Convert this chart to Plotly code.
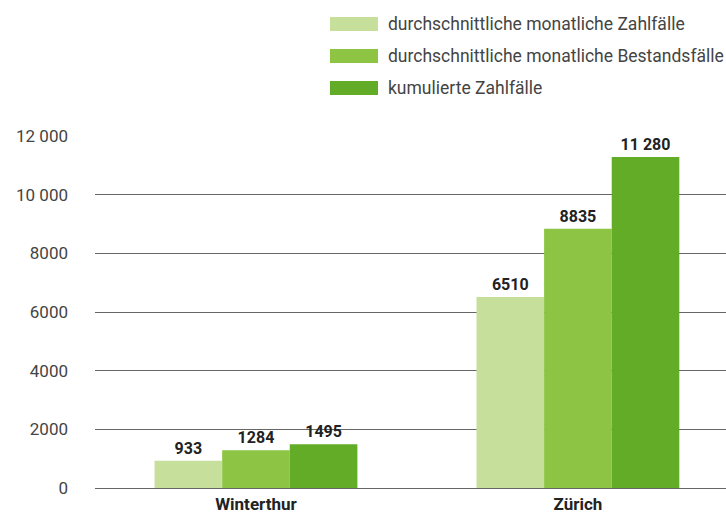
import plotly.graph_objects as go

categories = ["Winterthur", "Zürich"]
series_names = [
    "durchschnittliche monatliche Zahlfälle",
    "durchschnittliche monatliche Bestandsfälle",
    "kumulierte Zahlfälle",
]
zahlfaelle = [933, 6510]
bestandsfaelle = [1284, 8835]
kumuliert = [1495, 11280]
value_labels = [["933", "6510"], ["1284", "8835"], ["1495", "11 280"]]
tick_vals = [0, 2000, 4000, 6000, 8000, 10000, 12000]
tick_text = ["0", "2000", "4000", "6000", "8000", "10 000", "12 000"]

colors = ["#c6e09c", "#8dc443", "#62ac27"]
series = [zahlfaelle, bestandsfaelle, kumuliert]

L, T, B = 95, 136, 25
W, H = 726, 513
plot_w = W - L
plot_h = H - T - B

fig = go.Figure()
for name, vals, col, labels in zip(series_names, series, colors, value_labels):
    fig.add_trace(go.Bar(
        x=categories, y=vals, name=name, marker=dict(color=col, line=dict(width=0)),
        text=labels, textposition="outside", cliponaxis=False,
        textfont=dict(family="Roboto", size=16, color="#222222", weight="bold"),
        showlegend=False,
    ))

# custom legend (swatches + texts), positions given in window pixels
legend_y = [24, 56, 88]
for name, col, yy in zip(series_names, colors, legend_y):
    fig.add_shape(type="rect", xref="paper", yref="paper",
                  x0=(330 - L) / plot_w, x1=(378 - L) / plot_w,
                  y0=(488 - yy + 7) / plot_h, y1=(488 - yy - 7) / plot_h,
                  fillcolor=col, line=dict(width=0))
    fig.add_annotation(xref="paper", yref="paper", x=(386 - L) / plot_w, y=(488 - yy) / plot_h,
                       text=name, showarrow=False, xanchor="left", yanchor="middle",
                       font=dict(family="Roboto", size=17.5, color="#444444"))

fig.update_layout(
    width=W, height=H,
    margin=dict(l=L, r=0, t=T, b=B),
    paper_bgcolor="white", plot_bgcolor="white",
    barmode="group", bargap=0.37, bargroupgap=0,
    font=dict(family="Roboto", color="#444444"),
    hovermode=False,
    xaxis=dict(type="category", range=[-0.5, 1.46], showgrid=False, showline=False,
               ticks="", ticklabelstandoff=4,
               tickfont=dict(family="Roboto", size=17, color="#222222", weight="bold"),
               automargin=False),
    yaxis=dict(range=[0, 12000], tickvals=tick_vals, ticktext=tick_text,
               showgrid=True, gridcolor="#666666", gridwidth=1,
               zeroline=True, zerolinecolor="#666666", zerolinewidth=1,
               showline=False, ticks="", ticklabelstandoff=26,
               tickfont=dict(family="Roboto", size=17, color="#444444"),
               automargin=False),
)

fig.write_html(
    "out.html",
    config={"displayModeBar": False, "staticPlot": True},
    post_script="document.body.style.margin='0';document.body.style.overflow='hidden';",
)
